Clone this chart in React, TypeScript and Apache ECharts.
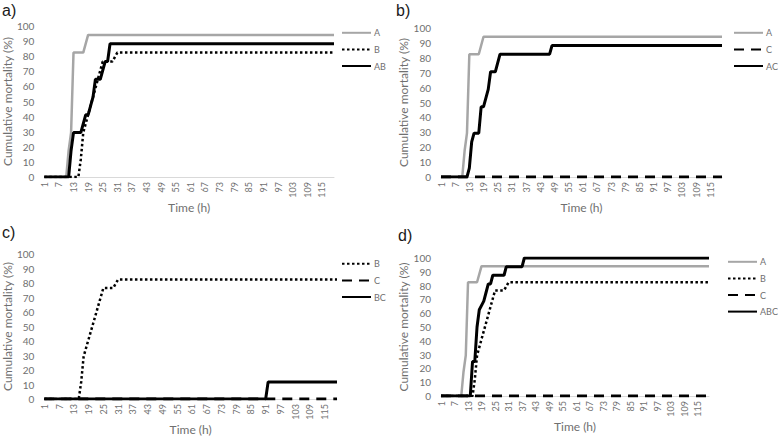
import React, { useEffect, useRef } from "react";
import * as echarts from "echarts";

const hours = [
  "1","2","3","4","5","6","7","8","9","10","11","12","13","14","15","16","17","18","19","20",
  "21","22","23","24","25","26","27","28","29","30","31","32","33","34","35","36","37","38","39","40",
  "41","42","43","44","45","46","47","48","49","50","51","52","53","54","55","56","57","58","59","60",
  "61","62","63","64","65","66","67","68","69","70","71","72","73","74","75","76","77","78","79","80",
  "81","82","83","84","85","86","87","88","89","90","91","92","93","94","95","96","97","98","99","100",
  "101","102","103","104","105","106","107","108","109","110","111","112","113","114","115","116","117","118","119","120",
];

// breakpoints [hour, cumulative mortality %]
const seriesA = [[1, 0], [10, 0], [11, 17.6], [12, 29.4], [13, 82.4], [17, 82.4], [19, 94.1], [120, 94.1]];
const seriesB = [[1, 0], [15, 0], [16, 11.8], [17, 29.4], [19, 41.2], [21, 52.9], [23, 64.7], [25, 76.5], [29, 76.5], [31, 82.4], [120, 82.4]];
const seriesC = [[1, 0], [120, 0]];
const seriesAB = [[1, 0], [11, 0], [12, 17.6], [13, 29.4], [16, 29.4], [18, 41.2], [19, 41.2], [21, 52.9], [22, 64.7], [24, 64.7], [26, 76.5], [27, 76.5], [28, 88.2], [120, 88.2]];
const seriesAC = [[1, 0], [12, 0], [13, 5.9], [14, 23.5], [15, 29.4], [17, 29.4], [18, 47.1], [19, 47.1], [21, 58.8], [22, 70.6], [24, 70.6], [26, 82.4], [47, 82.4], [48, 88.2], [120, 88.2]];
const seriesBC = [[1, 0], [91, 0], [92, 11.8], [120, 11.8]];
const seriesABC = [[1, 0], [14, 0], [15, 25], [16, 25], [17, 50], [18, 62.5], [20, 68.75], [21, 75], [22, 81.25], [23, 81.25], [24, 87.5], [29, 87.5], [30, 93.75], [37, 93.75], [38, 100], [120, 100]];

const panelLabels = ["a)", "b)", "c)", "d)"];
const yTitle = "Cumulative mortality (%)";
const xTitle = "Time (h)";

const FONT = "Lato, 'Noto Sans', sans-serif";
const TXT = "#707070";

const styles: Record<string, any> = {
  A: { color: "#a6a6a6", width: 2.5, type: "solid" },
  B: { color: "#000000", width: 2.5, type: [2.5, 2.5] },
  C: { color: "#000000", width: 3, type: [10, 7] },
  combo: { color: "#000000", width: 3, type: "solid" },
};

const panels = [
  {
    grid: { left: 44, top: 26, width: 290, height: 151 },
    legend: { left: 341, top: 28 },
    series: [["A", seriesA, "A"], ["B", seriesB, "B"], ["AB", seriesAB, "combo"]],
    label: { x: 2, y: 2 },
    xGap: 22,
  },
  {
    grid: { left: 441, top: 28, width: 281, height: 149 },
    legend: { left: 733, top: 28 },
    series: [["A", seriesA, "A"], ["C", seriesC, "C"], ["AC", seriesAC, "combo"]],
    label: { x: 396, y: 2 },
    xGap: 22,
  },
  {
    grid: { left: 43, top: 254, width: 294, height: 145 },
    legend: { left: 341, top: 259 },
    series: [["B", seriesB, "B"], ["C", seriesC, "C"], ["BC", seriesBC, "combo"]],
    label: { x: 2, y: 224 },
    xGap: 24,
  },
  {
    grid: { left: 441, top: 258, width: 268, height: 138 },
    legend: { left: 727, top: 257 },
    series: [["A", seriesA, "A"], ["B", seriesB, "B"], ["C", seriesC, "C"], ["ABC", seriesABC, "combo"]],
    label: { x: 398, y: 227 },
    xGap: 18,
  },
];

function buildOption() {
  const grid: any[] = [];
  const xAxis: any[] = [];
  const yAxis: any[] = [];
  const legend: any[] = [];
  const series: any[] = [];
  const graphic: any[] = [];

  panels.forEach((p, i) => {
    grid.push({ ...p.grid, containLabel: false });
    xAxis.push({
      type: "category",
      gridIndex: i,
      data: hours,
      boundaryGap: false,
      name: xTitle,
      nameLocation: "middle",
      nameGap: p.xGap,
      nameTextStyle: { fontFamily: FONT, fontSize: 12, color: TXT },
      axisLine: { show: true, lineStyle: { color: "#d9d9d9", width: 1 } },
      axisTick: { show: false },
      axisLabel: {
        interval: 5,
        rotate: 90,
        margin: 5,
        fontFamily: FONT,
        fontSize: 9,
        color: TXT,
      },
      splitLine: { show: false },
    });
    yAxis.push({
      type: "value",
      gridIndex: i,
      min: 0,
      max: 100,
      interval: 10,
      name: yTitle,
      nameLocation: "middle",
      nameRotate: 90,
      nameGap: 28,
      nameTextStyle: { fontFamily: FONT, fontSize: 12, color: TXT },
      axisLine: { show: false },
      axisTick: { show: false },
      axisLabel: { margin: 10, fontFamily: FONT, fontSize: 10, color: TXT },
      splitLine: { show: false },
    });
    legend.push({
      orient: "vertical",
      left: p.legend.left,
      top: p.legend.top,
      itemWidth: 29,
      itemHeight: 12,
      itemGap: 7,
      padding: 0,
      selectedMode: false,
      itemStyle: { opacity: 0 },
      data: p.series.map((s) => s[0] as string),
      textStyle: { fontFamily: FONT, fontSize: 9, color: TXT, padding: [0, 0, 0, -2] },
    });
    p.series.forEach(([name, pts, st]) => {
      const s = styles[st as string];
      series.push({
        type: "line",
        name,
        xAxisIndex: i,
        yAxisIndex: i,
        data: (pts as number[][]).map(([h, v]) => [h - 1, v]),
        symbol: "none",
        showSymbol: false,
        silent: true,
        lineStyle: { color: s.color, width: s.width, type: s.type },
        itemStyle: { color: s.color },
        z: st === "combo" ? 4 : 2,
      });
    });
    graphic.push({
      type: "text",
      left: p.label.x,
      top: p.label.y,
      style: { text: panelLabels[i], fontFamily: "'Liberation Sans', Arial, sans-serif", fontSize: 16, fill: "#1a1a1a" },
    });
  });

  return {
    animation: false,
    backgroundColor: "#ffffff",
    grid,
    xAxis,
    yAxis,
    legend,
    series,
    graphic,
  };
}

export default function App() {
  const ref = useRef<HTMLDivElement>(null);
  useEffect(() => {
    if (!ref.current) return;
    const chart = echarts.init(ref.current, undefined, { renderer: "svg" });
    chart.setOption(buildOption());
    return () => chart.dispose();
  }, []);
  return (
    <div
      ref={ref}
      style={{ position: "absolute", left: 0, top: 0, width: 778, height: 438 }}
    />
  );
}
